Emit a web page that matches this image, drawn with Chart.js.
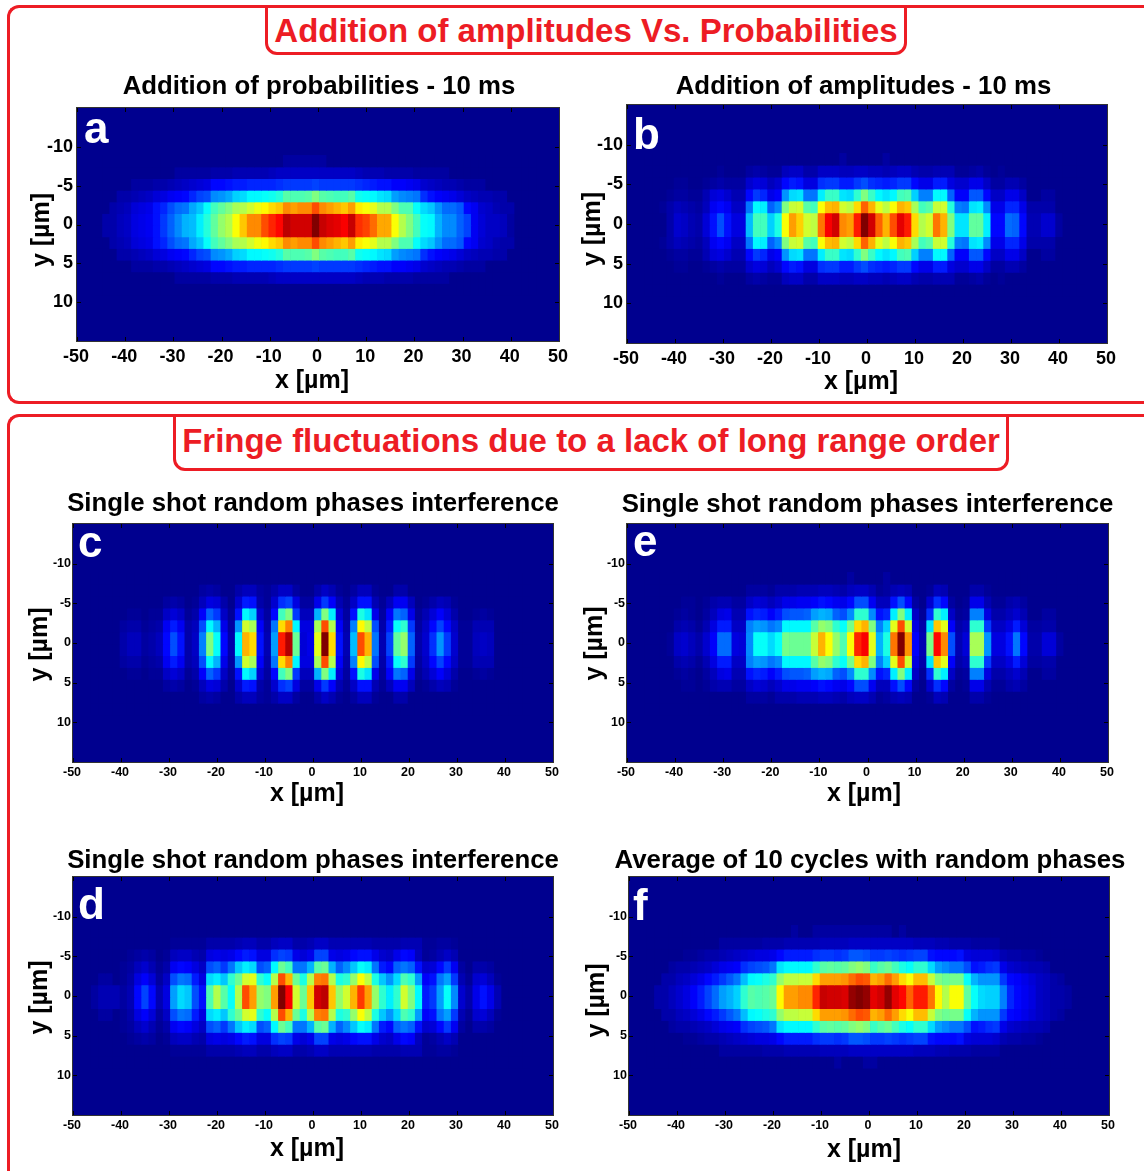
<!DOCTYPE html>
<html>
<head>
<meta charset="utf-8">
<title>Addition of amplitudes Vs. Probabilities</title>
<script src="https://cdn.jsdelivr.net/npm/chart.js@4"></script>
<style>
    html, body { margin: 0; padding: 0; background: #fff; }
    body { position: relative; width: 1144px; height: 1171px; overflow: hidden; font-family: "Liberation Sans", Arial, sans-serif; }
    canvas { position: absolute; filter: blur(0.5px); }
    .frame { position: absolute; box-sizing: border-box; border: 3.5px solid #ed1c24; border-right: 0; }
    .heading { position: absolute; box-sizing: border-box; border: 3.5px solid #ed1c24; background: #fff; color: #ed1c24; font-weight: bold; font-size: 33px; text-align: center; white-space: nowrap; }
</style>
</head>
<body>
<div class="frame" style="left:7px;top:4.5px;width:1160px;height:399px;border-radius:12px 0 0 12px"></div>
<div class="frame" style="left:7px;top:413.5px;width:1160px;height:800px;border-radius:12px 0 0 0"></div>
<div class="heading" style="left:265px;top:4.5px;width:642px;height:50px;border-radius:0 0 12px 12px;line-height:46px">Addition of amplitudes Vs. Probabilities</div>
<div class="heading" style="left:173px;top:413.5px;width:836px;height:57px;border-radius:0 0 12px 12px;line-height:47px">Fringe fluctuations due to a lack of long range order</div>
<script>
// x centres of the image cells, um
const cols = [
    -45,-43.5,-42,-40.5,-39,-37.5,-36,-34.5,-33,-31.5,
    -30,-28.5,-27,-25.5,-24,-22.5,-21,-19.5,-18,-16.5,
    -15,-13.5,-12,-10.5,-9,-7.5,-6,-4.5,-3,-1.5,
    0,
    1.5,3,4.5,6,7.5,9,10.5,12,13.5,15,
    16.5,18,19.5,21,22.5,24,25.5,27,28.5,30,
    31.5,33,34.5,36,37.5,39,40.5,42,43.5,45
];
// y centres of the rows, um
const rowsY = [-8.25,-6.75,-5.25,-3.75,-2.25,-0.75,0.75,2.25,3.75,5.25,6.75,8.25];
const xTicks = [-50,-40,-30,-20,-10,0,10,20,30,40,50];
const yTicks = [-10,-5,0,5,10];

const noRow = [
    0,0,0,0,0,0,0,0,0,0, 0,0,0,0,0,0,0,0,0,0, 0,0,0,0,0,0,0,0,0,0,
    0,
    0,0,0,0,0,0,0,0,0,0, 0,0,0,0,0,0,0,0,0,0, 0,0,0,0,0,0,0,0,0,0
];

const a0 = [0,3,3,5,6,9,10,11,14,18, 22,26,30,31,36,41,47,52,55,62, 68,74,74,80,84,87,94,92,92,92, 100, 93,91,90,88,93,83,81,77,71,71, 62,55,50,44,38,37,30,26,26,22, 19,11,8,6,6,5,2,0,0,0];
const a2 = [0,0,3,4,5,8,9,10,14,16, 20,23,24,29,32,38,44,47,50,54, 55,58,61,63,66,68,74,72,74,74, 80, 74,72,70,68,72,64,62,60,55,55, 50,45,45,38,34,32,27,23,23,21, 13,11,7,6,4,3,3,0,0,0];
const a3 = [0,0,0,3,3,4,5,6,8,9, 11,12,13,16,19,20,26,27,29,33, 34,37,37,38,39,41,46,45,45,46, 50, 46,45,44,44,46,39,38,37,35,34, 28,26,25,24,17,14,12,11,10,8, 6,5,4,4,3,3,0,0,0,0];
const a5 = [0,0,0,0,0,2,2,2,3,3, 4,5,6,7,8,9,13,13,14,15, 15,16,16,16,16,17,18,18,18,18, 19, 18,18,18,18,18,17,16,15,14,14, 12,12,11,10,7,6,5,4,4,3, 2,2,2,0,0,0,0,0,0,0];
const a6 = [0,0,0,0,0,0,0,0,0,0, 0,2,2,2,2,2,3,3,3,4, 4,4,4,4,5,6,6,6,6,6, 6, 6,6,6,6,6,5,4,4,4,3, 3,3,3,2,2,2,2,2,0,0, 0,0,0,0,0,0,0,0,0,0];
const a8 = [0,0,0,0,0,0,0,0,0,0, 0,0,0,0,0,0,0,0,0,0, 0,0,0,0,0,0,2,2,2,2, 2, 2,0,0,0,0,0,0,0,0,0, 0,0,0,0,0,0,0,0,0,0, 0,0,0,0,0,0,0,0,0,0];

const b0 = [0,0,0,3,7,6,4,3,8,14, 20,14,9,9,31,44,44,33,40,62, 72,67,58,56,76,88,92,74,72,85, 100, 92,78,70,80,90,85,66,55,58,76, 70,50,35,35,47,47,36,13,13,23, 22,13,4,4,7,7,2,0,0,0];
const b2 = [0,0,1,3,5,4,3,2,5,11, 13,11,6,6,24,37,36,22,26,50, 57,58,46,44,62,69,70,58,56,66, 78, 70,60,56,62,70,68,54,44,46,57, 58,41,25,24,35,36,26,10,10,16, 16,10,3,3,3,3,0,0,0,0];
const b3 = [0,0,0,1,2,2,1,1,4,8, 9,7,4,4,13,18,16,10,12,27, 34,35,24,24,36,43,43,35,34,42, 50, 43,37,35,37,44,45,33,25,25,37, 37,22,12,12,21,21,13,6,6,10, 10,6,0,0,2,2,0,0,0,0];
const b5 = [0,0,0,0,1,1,0,0,1,2, 3,2,2,2,7,9,8,5,7,13, 15,14,9,9,17,18,18,15,15,18, 20, 17,16,15,16,18,18,13,10,10,15, 15,9,7,7,10,10,6,2,2,4, 4,2,0,0,0,0,0,0,0,0];
const b6 = [0,0,0,0,0,0,0,0,0,0, 1,0,0,0,2,3,2,1,1,5, 6,6,3,3,6,6,6,5,5,6, 6, 5,5,4,5,6,6,4,3,3,4, 4,4,1,1,2,3,1,0,1,0, 0,0,0,0,0,0,0,0,0,0];
const b8 = [0,0,0,0,0,0,0,0,0,0, 0,0,0,0,0,0,0,0,0,0, 0,0,0,0,0,0,0,2,0,0, 0, 0,0,2,0,0,0,0,0,0,0, 0,0,0,0,0,0,0,0,0,0, 0,0,0,0,0,0,0,0,0,0];

const c0 = [0,0,0,0,3,5,5,2,3,5, 13,20,14,3,6,25,50,38,13,3, 37,70,66,14,4,28,85,95,48,8, 10, 60,100,66,14,4,31,80,70,24,4, 19,47,52,22,3,7,17,27,18,7, 1,1,5,6,5,0,0,0,0,0];
const c2 = [0,0,0,0,2,3,3,1,2,3, 11,15,11,3,5,20,37,30,10,2, 27,58,54,12,3,24,66,75,37,9, 9, 54,80,55,12,3,25,63,56,20,3, 15,38,42,18,2,6,13,19,13,6, 1,1,4,4,4,0,0,0,0,0];
const c3 = [0,0,0,0,0,1,1,0,1,1, 6,8,6,1,3,12,22,18,6,1, 14,37,33,7,2,13,44,50,18,5, 5, 30,50,36,8,2,14,40,35,10,2, 12,24,22,10,1,4,8,12,8,3, 0,0,1,2,1,0,0,0,0,0];
const c5 = [0,0,0,0,0,0,0,0,0,0, 2,3,2,0,1,5,9,8,3,0, 7,15,14,3,1,7,17,19,9,2, 2, 10,18,12,4,1,6,14,14,4,1, 5,11,11,5,0,1,3,5,4,1, 0,0,0,0,0,0,0,0,0,0];
const c6 = [0,0,0,0,0,0,0,0,0,0, 0,0,0,0,0,2,3,2,0,0, 3,5,5,2,1,3,6,6,2,0, 0, 3,6,4,1,0,2,5,5,1,0, 0,3,3,0,0,0,0,0,0,0, 0,0,0,0,0,0,0,0,0,0];

const e0 = [0,0,0,1,6,7,5,3,7,12, 23,23,9,8,26,38,38,34,38,49, 48,48,48,57,70,62,52,45,62,84, 88, 60,30,40,76,100,73,12,4,49,87, 74,20,4,8,54,54,27,9,9,14, 24,13,3,3,8,8,2,0,0,0];
const e2 = [0,0,0,0,3,4,3,1,4,9, 15,15,6,6,25,28,27,24,26,37, 37,37,37,46,52,50,42,38,49,66, 70, 50,25,33,60,80,58,9,3,35,68, 60,12,3,5,42,42,18,6,6,9, 15,8,2,2,3,3,0,0,0,0];
const e3 = [0,0,0,0,1,2,1,0,2,5, 9,10,4,4,14,16,15,12,15,20, 21,21,22,28,30,29,22,20,26,42, 42, 26,14,16,36,50,36,6,1,17,42, 36,6,1,2,25,25,9,3,3,5, 7,4,0,0,2,2,0,0,0,0];
const e5 = [0,0,0,0,0,1,1,0,1,3, 4,4,2,2,6,8,7,5,7,10, 10,11,11,12,14,13,11,10,13,20, 20, 11,5,5,14,20,13,2,0,7,17, 13,2,0,1,10,10,4,1,1,3, 4,2,0,0,0,0,0,0,0,0];
const e6 = [0,0,0,0,0,0,0,0,0,0, 0,0,0,0,2,2,2,1,3,3, 3,4,4,4,5,5,4,3,5,6, 6, 4,1,2,4,5,4,0,0,1,5, 4,0,0,0,3,3,1,0,0,0, 0,0,0,0,0,0,0,0,0,0];
const e8 = [0,0,0,0,0,0,0,0,0,0, 0,0,0,0,0,0,0,0,0,0, 0,0,0,0,0,0,0,0,2,0, 0, 0,0,2,0,0,0,0,0,0,0, 0,0,0,0,0,0,0,0,0,0, 0,0,0,0,0,0,0,0,0,0];

const d0 = [2,4,4,4,2,4,13,19,13,4, 9,28,34,32,20,14,45,55,46,38, 55,80,72,52,50,72,100,88,58,48, 68, 92,94,68,52,58,70,82,72,52,42, 36,42,58,50,37,15,18,28,38,26, 7,3,10,14,10,4,0,0,0,0];
const d2 = [0,2,2,0,1,3,9,12,8,2, 6,20,24,23,15,9,34,36,32,42, 48,58,60,42,38,55,80,70,48,40, 55, 75,76,55,40,42,52,62,56,40,32, 27,34,45,42,28,12,14,24,28,18, 4,1,7,8,5,1,0,0,0,0];
const d3 = [0,0,0,0,1,2,5,7,4,1, 3,11,13,12,9,6,20,22,18,24, 32,36,34,20,22,37,48,44,24,24, 30, 46,48,30,22,26,32,38,36,24,15, 13,22,24,22,14,7,8,13,18,11, 2,0,3,3,2,0,0,0,0,0];
const d5 = [0,0,0,0,0,1,2,3,2,0, 1,5,6,6,4,3,9,10,9,10, 13,15,14,9,9,17,19,18,10,8, 10, 19,19,10,9,10,13,14,14,10,7, 6,10,13,12,5,1,2,4,6,4, 0,0,0,0,0,0,0,0,0,0];
const d6 = [0,0,0,0,0,0,0,0,0,0, 0,1,1,1,1,1,3,3,3,3, 4,5,5,3,3,5,6,6,3,3, 4, 6,6,4,4,4,4,4,4,3,3, 3,3,4,4,4,1,1,2,2,1, 0,0,0,0,0,0,0,0,0,0];

const f0 = [0,3,3,5,7,9,12,15,19,23, 28,30,33,42,46,45,46,48,63,72, 72,74,74,84,93,92,92,91,98,100, 98, 90,92,98,90,87,78,85,85,76,63, 55,62,62,47,38,34,33,33,25,16, 13,11,9,6,5,3,3,2,0,0];
const f2 = [0,0,3,3,5,6,8,10,13,15, 18,21,24,31,37,38,40,42,52,56, 56,57,57,66,72,72,72,73,77,80, 79, 70,72,77,72,66,62,69,69,57,50, 48,49,49,38,30,27,27,27,18,13, 12,10,8,6,5,3,2,0,0,0];
const f3 = [0,0,0,2,3,3,4,5,6,8, 10,11,12,17,19,20,21,24,35,37, 37,37,37,42,46,47,46,47,50,52, 50, 43,46,48,44,40,38,42,42,34,28, 26,24,24,20,14,15,17,18,10,7, 6,5,4,4,3,0,0,0,0,0];
const f5 = [0,0,0,0,0,1,1,2,3,3, 4,5,6,7,8,9,9,10,13,15, 15,15,15,17,18,18,17,18,21,21, 20, 18,18,19,18,17,18,19,19,14,13, 13,13,14,9,8,8,8,7,4,3, 3,2,2,1,0,0,0,0,0,0];
const f6 = [0,0,0,0,0,0,0,0,0,0, 2,2,2,2,2,2,3,3,3,4, 4,4,4,4,5,5,5,5,6,6, 6, 6,6,6,6,6,6,5,5,5,4, 4,3,3,3,2,2,2,2,0,0, 0,0,0,0,0,0,0,0,0,0];
const f8 = [0,0,0,0,0,0,0,0,0,0, 0,0,0,0,0,0,0,0,0,0, 2,0,0,2,2,2,2,2,2,2, 2, 2,2,2,0,2,0,0,0,0,0, 0,0,0,0,0,0,0,0,0,0, 0,0,0,0,0,0,0,0,0,0];
const f9 = [0,0,0,0,0,0,0,0,0,0, 0,0,0,0,0,0,0,0,0,0, 0,0,0,0,0,0,2,0,0,0, 2, 2,0,0,0,0,0,0,0,0,0, 0,0,0,0,0,0,0,0,0,0, 0,0,0,0,0,0,0,0,0,0];

const panels = [
    {letter: 'a', title: 'Addition of probabilities - 10 ms', box: [77,108,482,233], rows: [a8,a6,a5,a3,a2,a0,a0,a2,a3,a5,a6,noRow],
     big: true, titleAt: [319,87], xName: [312,381], yName: [42,230], letterAt: [84,143]},
    {letter: 'b', title: 'Addition of amplitudes - 10 ms', box: [627,105,480,238], rows: [b8,b6,b5,b3,b2,b0,b0,b2,b3,b5,b6,noRow],
     big: true, titleAt: [863.5,87], xName: [861,382], yName: [593,229], letterAt: [633,149]},
    {letter: 'c', title: 'Single shot random phases interference', box: [73,523.5,480,238.5], rows: [noRow,c6,c5,c3,c2,c0,c0,c2,c3,c5,c6,noRow],
     titleAt: [313,503], xName: [307,794], yName: [40,644], letterAt: [78,556]},
    {letter: 'e', title: 'Single shot random phases interference', box: [627,523.5,481,238.5], rows: [e8,e6,e5,e3,e2,e0,e0,e2,e3,e5,e6,noRow],
     titleAt: [867.5,504], xName: [864,794], yName: [595,643], letterAt: [633,555]},
    {letter: 'd', title: 'Single shot random phases interference', box: [73,876.5,480,238.5], rows: [noRow,d6,d5,d3,d2,d0,d0,d2,d3,d5,d6,noRow],
     titleAt: [313,860], xName: [307,1149], yName: [40,997], letterAt: [78,918]},
    {letter: 'f', title: 'Average of 10 cycles with random phases', box: [629,876.5,480.5,238.5], rows: [f8,f6,f5,f3,f2,f0,f0,f2,f3,f5,f6,f9],
     titleAt: [870,860], xName: [864,1150], yName: [597,1000], letterAt: [633,919]}
];

const marginX = 62, marginTop = 45, marginBottom = 65;
const cellH = 1.5;
// the image grid sits a little off the ticks
const gridShiftX = -0.45, gridShiftY = 0.1;
const fontName = '"Liberation Sans", Arial, sans-serif';

// matlab jet
function jet(v) {
    const t = v / 100;
    const ramp = c => Math.round(255 * Math.max(0, Math.min(1, 1.5 - Math.abs(4 * t - c))));
    const b = t < 0.125 ? Math.round(143 + 112 * t / 0.125) : ramp(1);
    return `rgb(${ramp(3)},${ramp(2)},${b})`;
}

function drawPanel(p) {
    const [left, top, w, h] = p.box;
    const canvas = document.createElement('canvas');
    canvas.width = w + marginX * 2;
    canvas.height = h + marginTop + marginBottom;
    const ox = left - marginX, oy = top - marginTop;
    canvas.style.left = ox + 'px';
    canvas.style.top = oy + 'px';
    document.body.appendChild(canvas);

    const tickSize = p.big ? 18 : 12.5;

    const panelBits = {
        id: 'panelBits',
        beforeDraw(chart) {
            const a = chart.chartArea, c = chart.ctx;
            c.fillStyle = jet(0);
            c.fillRect(a.left, a.top, a.width, a.height);
        },
        afterDatasetsDraw(chart) {
            const a = chart.chartArea, c = chart.ctx;
            const sx = chart.scales.x, sy = chart.scales.y;
            // inward ticks on all four sides, like the matlab box
            c.save();
            c.strokeStyle = '#000';
            c.lineWidth = 1;
            c.beginPath();
            xTicks.forEach(v => {
                const x = Math.round(sx.getPixelForValue(v)) + 0.5;
                c.moveTo(x, a.top); c.lineTo(x, a.top + 4);
                c.moveTo(x, a.bottom); c.lineTo(x, a.bottom - 4);
            });
            yTicks.forEach(v => {
                const y = Math.round(sy.getPixelForValue(v)) + 0.5;
                c.moveTo(a.left, y); c.lineTo(a.left + 4, y);
                c.moveTo(a.right, y); c.lineTo(a.right - 4, y);
            });
            c.stroke();
            c.strokeStyle = '#333';
            c.strokeRect(a.left - 0.5, a.top - 0.5, a.width + 1, a.height + 1);
            c.restore();
        },
        afterDraw(chart) {
            const c = chart.ctx;
            c.save();
            c.fillStyle = '#000';
            c.textAlign = 'center';
            c.textBaseline = 'middle';
            c.font = `bold 25.8px ${fontName}`;
            c.fillText(p.title, p.titleAt[0] - ox, p.titleAt[1] - oy);
            c.font = `bold 25px ${fontName}`;
            c.fillText('x [µm]', p.xName[0] - ox, p.xName[1] - oy);
            c.save();
            c.translate(p.yName[0] - ox, p.yName[1] - oy);
            c.rotate(-Math.PI / 2);
            c.fillText('y [µm]', 0, 0);
            c.restore();
            c.fillStyle = '#fff';
            c.textAlign = 'left';
            c.textBaseline = 'alphabetic';
            c.font = `bold 44px ${fontName}`;
            c.fillText(p.letter, p.letterAt[0] - ox, p.letterAt[1] - oy);
            c.restore();
        }
    };

    new Chart(canvas, {
        type: 'bar',
        data: {
            datasets: p.rows.map((row, i) => ({
                data: cols.map(x => ({
                    x: x + gridShiftX,
                    y: [rowsY[i] + gridShiftY - cellH / 2, rowsY[i] + gridShiftY + cellH / 2]
                })),
                backgroundColor: row.map(jet),
                barPercentage: 1,
                categoryPercentage: 1,
                grouped: false,
                borderWidth: 0
            }))
        },
        options: {
            responsive: false,
            animation: false,
            events: [],
            layout: {padding: {left: 0, right: marginX, top: marginTop, bottom: 0}},
            plugins: {
                legend: {display: false},
                tooltip: {enabled: false}
            },
            scales: {
                x: {
                    type: 'linear',
                    min: -50,
                    max: 50,
                    offset: false,
                    afterFit(s) { s.height = marginBottom; },
                    afterBuildTicks(s) { s.ticks = xTicks.map(v => ({value: v})); },
                    grid: {display: false, drawTicks: false, tickLength: 0},
                    border: {display: false},
                    ticks: {
                        autoSkip: false,
                        maxRotation: 0,
                        color: '#000',
                        labelOffset: -1,
                        padding: p.big ? 5 : 3,
                        font: {family: fontName, size: tickSize, weight: 'bold'}
                    }
                },
                y: {
                    type: 'linear',
                    reverse: true,
                    min: -15,
                    max: 15,
                    afterFit(s) { s.width = marginX; },
                    afterBuildTicks(s) { s.ticks = yTicks.map(v => ({value: v})); },
                    grid: {display: false, drawTicks: false, tickLength: 0},
                    border: {display: false},
                    ticks: {
                        autoSkip: false,
                        color: '#000',
                        padding: p.big ? 4 : 2,
                        font: {family: fontName, size: tickSize, weight: 'bold'}
                    }
                }
            }
        },
        plugins: [panelBits]
    });
}

panels.forEach(drawPanel);
</script>
</body>
</html>
